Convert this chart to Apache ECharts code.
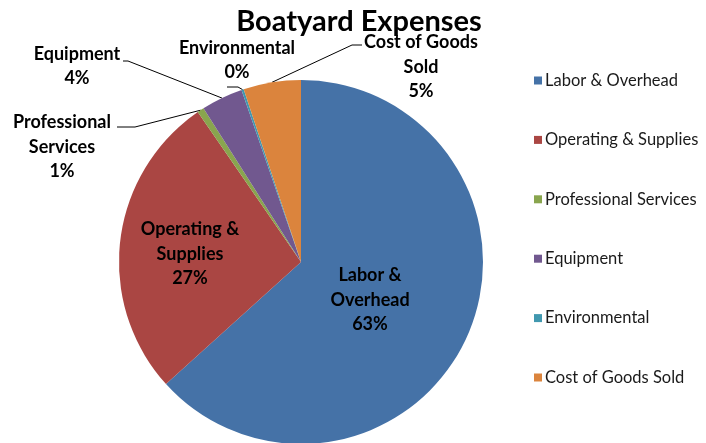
<!DOCTYPE html>
<html>
<head>
<meta charset="utf-8">
<title>Boatyard Expenses</title>
<script src="https://cdn.jsdelivr.net/npm/echarts@6/dist/echarts.min.js"></script>
<style>
    * { margin: 0; padding: 0; }
    html, body { background: #fff; }
</style>
</head>
<body>
<div id="chart" style="width: 706px; height: 443px;"></div>
<script>
    // 数据
    var categories = ['Labor & Overhead', 'Operating & Supplies', 'Professional Services', 'Equipment', 'Environmental', 'Cost of Goods Sold'];
    var labelNames = ['Labor &\nOverhead', 'Operating &\nSupplies', 'Professional\nServices', 'Equipment', 'Environmental', 'Cost of Goods\nSold'];
    var percents = [63.3, 27.1, 0.6, 3.7, 0.2, 5.1];
    var colors = ['#4572a7', '#aa4643', '#89a54e', '#71588f', '#4198af', '#db843d'];

    var fontFamily = 'Lato, "Open Sans", sans-serif';

    // label positions (center of text block) and leader line tail
    var labelPos = [
        { x: 370, y: 300 },
        { x: 190, y: 254 },
        { x: 62, y: 147, line: [[135, 127], [117, 127]] },
        { x: 77, y: 66, line: [[128, 61], [123, 61]] },
        { x: 237, y: 60, line: [[238, 87], [227, 87]] },
        { x: 421, y: 67, line: [[352, 45], [362, 45]] }
    ];

    var seriesData = categories.map(function (name, i) {
        return {
            name: name,
            value: percents[i],
            itemStyle: { color: colors[i] },
            label: { position: i < 2 ? 'inside' : 'outside' },
            labelLine: { show: i >= 2 }
        };
    });

    var option = {
        backgroundColor: '#fff',
        animation: false,
        title: {
            text: 'Boatyard Expenses',
            left: 354,
            top: 2,
            textAlign: 'center',
            textStyle: {
                fontFamily: fontFamily,
                fontSize: 29,
                fontWeight: 'bold',
                color: '#000'
            }
        },
        legend: {
            orient: 'vertical',
            left: 529,
            top: 67,
            itemWidth: 8,
            itemHeight: 8,
            itemGap: 42.4,
            icon: 'rect',
            data: categories,
            textStyle: {
                fontFamily: fontFamily,
                fontSize: 16.5,
                lineHeight: 16,
                color: '#1a1a1a',
                padding: [0, 0, 0, -2]
            }
        },
        series: [
            {
                type: 'pie',
                center: [301, 262],
                radius: 182,
                startAngle: 90,
                clockwise: true,
                avoidLabelOverlap: false,
                itemStyle: { borderWidth: 0 },
                label: {
                    show: true,
                    fontFamily: fontFamily,
                    fontSize: 18,
                    fontWeight: 'bold',
                    lineHeight: 24.5,
                    color: '#000',
                    align: 'center',
                    formatter: function (p) {
                        return labelNames[p.dataIndex] + '\n' + Math.round(p.value) + '%';
                    }
                },
                labelLine: {
                    show: true,
                    lineStyle: { color: '#000', width: 1 }
                },
                labelLayout: function (params) {
                    var pos = labelPos[params.dataIndex];
                    var res = {
                        x: pos.x,
                        y: pos.y,
                        align: 'center',
                        verticalAlign: 'middle'
                    };
                    if (pos.line && params.labelLinePoints) {
                        res.labelLinePoints = [params.labelLinePoints[0]].concat(pos.line);
                    }
                    return res;
                },
                data: seriesData
            }
        ]
    };

    var myChart = echarts.init(document.getElementById('chart'));
    myChart.setOption(option);
</script>
</body>
</html>
